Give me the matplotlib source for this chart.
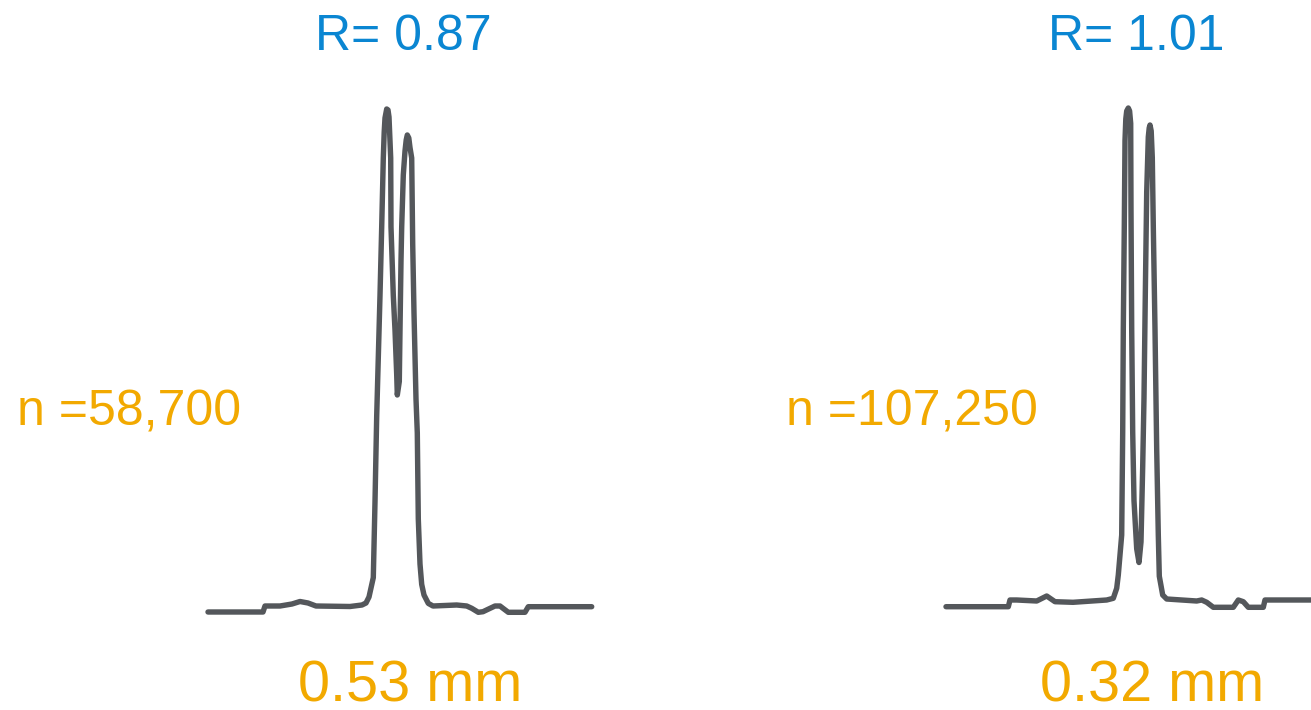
import matplotlib
matplotlib.use("Agg")
import matplotlib.pyplot as plt

plt.rcParams['font.family'] = ['Liberation Sans', 'DejaVu Sans']

# Trace 1 (R = 0.87): retention (arbitrary units) and signal
t1 = [0, 55, 57, 72, 84, 92, 100, 108, 142, 154, 158, 161, 163, 165.3, 167, 168.7,
      172, 173.7, 175.3, 176.2, 177, 178.7, 180, 181, 182.7, 183, 185.3, 187, 188.7, 189.3,
      191.3, 192, 193, 193.7, 195.3, 197, 198.2, 199.3, 200.8, 202, 203.7, 204.7, 206, 208,
      209.3, 210.3, 212, 213.7, 216, 220.3, 225, 248.7, 258.7, 263.7, 270.3, 275,
      280, 287, 292, 295, 300.3, 317, 320.3, 383.7]
s1 = [0, 0, 6, 6, 8, 10.5, 9, 6, 5.5, 7, 9, 15, 24, 34.4, 110, 196,
      316.5, 385, 454, 480, 494, 503, 502, 495, 454, 385, 316.5, 282, 237.4, 217,
      230.5, 282, 351, 385, 437, 461, 472, 477, 474, 464.4, 454, 368, 299, 213,
      179, 93, 48, 27.6, 17, 8.6, 6, 7, 6, 3.7, -0.3, 0.3,
      2.7, 6, 6, 3.7, -0.3, -0.3, 5.3, 5.3]

# Trace 2 (R = 1.01)
t2 = [0, 62.3, 64, 70.7, 90.7, 100.7, 109, 127, 160.7, 167.3, 170.7, 172.3, 175.7,
      176.7, 177.3, 178.3, 179, 179.8, 180.7, 182.3, 183.6, 184.7, 185, 185.7, 186.7, 188,
      190.7, 193, 195, 196.7, 198, 199.3, 200.7, 202.3, 203.2, 204, 205.2, 206.3, 207.3, 209,
      210.7, 212.3, 213.3, 216.7, 220.7, 250.7, 255.7, 260.7, 267.3, 287.3,
      292.3, 297.3, 302.3, 317.3, 319, 365]
s2 = [0.3, 0.3, 7, 7, 6, 11, 5.3, 4.7, 7, 8.7, 18.7, 32, 72,
      175, 278, 381, 466.4, 488, 496, 499, 496, 483.6, 398, 278, 175, 106.3,
      58.2, 44.5, 65.1, 140.6, 209.2, 312, 415, 470, 479, 482, 476, 449.3, 380.7, 277.8,
      157.7, 72, 30.8, 12, 8, 6, 7, 4.7, -0.3, -0.3,
      7, 5.3, -0.3, -0.3, 7, 7]

r_labels = ["R= 0.87", "R= 1.01"]
n_labels = ["n =58,700", "n =107,250"]
w_labels = ["0.53 mm", "0.32 mm"]

W, H = 1311, 710
fig = plt.figure(figsize=(W / 100, H / 100), dpi=100)
fig.patch.set_facecolor('white')

line_color = '#54575b'
blue = '#0a86d2'
orange = '#f2a900'

panels = [
    dict(t=t1, s=s1, x0=208, y0=612, w=384, h=504),
    dict(t=t2, s=s2, x0=946, y0=607, w=365, h=499),
]
for p in panels:
    ax = fig.add_axes([p['x0'] / W, (H - p['y0']) / H, p['w'] / W, p['h'] / H])
    ax.plot(p['t'], p['s'], color=line_color, lw=3.9, solid_capstyle='round',
            solid_joinstyle='round', clip_on=False)
    ax.set_xlim(0, p['w'])
    ax.set_ylim(0, p['h'])
    ax.axis('off')

def ftext(x, y, s, **kw):
    fig.text(x / W, 1 - y / H, s, **kw)

ftext(403, 50, r_labels[0], color=blue, fontsize=36, ha='center', va='baseline')
ftext(1136, 50, r_labels[1], color=blue, fontsize=36, ha='center', va='baseline')
ftext(17, 425, n_labels[0], color=orange, fontsize=36, ha='left', va='baseline')
ftext(786, 425, n_labels[1], color=orange, fontsize=36, ha='left', va='baseline')
ftext(410, 702, w_labels[0], color=orange, fontsize=41.5, ha='center', va='baseline')
ftext(1152, 702, w_labels[1], color=orange, fontsize=41.5, ha='center', va='baseline')

fig.savefig('out.png', dpi=100, facecolor='white')
